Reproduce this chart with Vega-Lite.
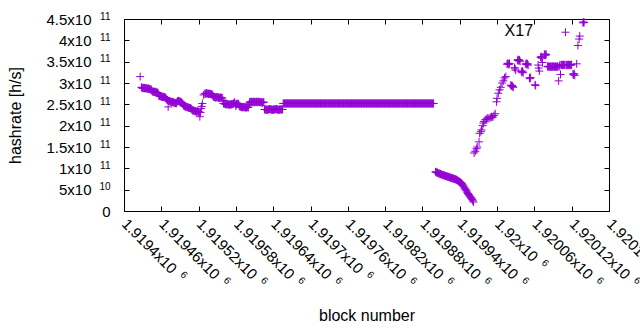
{
  "$schema": "https://vega.github.io/schema/vega-lite/v6.json",
  "width": 485,
  "height": 192,
  "autosize": "none",
  "padding": {"left": 124, "top": 19, "right": 31, "bottom": 119},
  "config": {
    "font": "Liberation Sans",
    "view": {"stroke": "black", "strokeWidth": 1},
    "axis": {
      "domain": false,
      "grid": false,
      "tickColor": "black",
      "tickSize": -5,
      "labelFont": "Liberation Sans",
      "labelFontSize": 15,
      "labelColor": "black",
      "titleFont": "Liberation Sans",
      "titleFontSize": 16,
      "titleFontWeight": "normal",
      "titleColor": "black",
      "labelOverlap": false,
      "labelFlush": false,
      "labelBound": false
    }
  },
  "resolve": {"axis": {"x": "independent", "y": "independent"}},
  "layer": [
    {
      "data": {"values": [
        {"block":1919426,"hashrate":3.15e11},
        {"block":1919428,"hashrate":2.90e11},{"block":1919429,"hashrate":2.89e11},{"block":1919430,"hashrate":2.88e11},{"block":1919431,"hashrate":2.88e11},{"block":1919432,"hashrate":2.89e11},{"block":1919433,"hashrate":2.88e11},{"block":1919434,"hashrate":2.87e11},{"block":1919435,"hashrate":2.88e11},{"block":1919436,"hashrate":2.88e11},{"block":1919437,"hashrate":2.87e11},{"block":1919438,"hashrate":2.86e11},{"block":1919439,"hashrate":2.87e11},{"block":1919440,"hashrate":2.87e11},{"block":1919441,"hashrate":2.86e11},{"block":1919442,"hashrate":2.85e11},{"block":1919443,"hashrate":2.85e11},{"block":1919444,"hashrate":2.84e11},
        {"block":1919445,"hashrate":2.81e11},{"block":1919446,"hashrate":2.80e11},{"block":1919447,"hashrate":2.80e11},{"block":1919448,"hashrate":2.79e11},{"block":1919449,"hashrate":2.79e11},{"block":1919450,"hashrate":2.80e11},{"block":1919451,"hashrate":2.79e11},{"block":1919452,"hashrate":2.78e11},{"block":1919453,"hashrate":2.78e11},{"block":1919454,"hashrate":2.77e11},{"block":1919455,"hashrate":2.76e11},
        {"block":1919456,"hashrate":2.70e11},{"block":1919457,"hashrate":2.70e11},{"block":1919458,"hashrate":2.69e11},{"block":1919459,"hashrate":2.69e11},{"block":1919460,"hashrate":2.68e11},{"block":1919461,"hashrate":2.68e11},{"block":1919462,"hashrate":2.67e11},{"block":1919463,"hashrate":2.67e11},{"block":1919464,"hashrate":2.68e11},{"block":1919465,"hashrate":2.67e11},{"block":1919466,"hashrate":2.66e11},{"block":1919467,"hashrate":2.65e11},{"block":1919468,"hashrate":2.63e11},
        {"block":1919469,"hashrate":2.61e11},{"block":1919470,"hashrate":2.60e11},{"block":1919471,"hashrate":2.44e11},{"block":1919472,"hashrate":2.58e11},{"block":1919473,"hashrate":2.58e11},{"block":1919474,"hashrate":2.57e11},{"block":1919475,"hashrate":2.56e11},{"block":1919476,"hashrate":2.55e11},{"block":1919477,"hashrate":2.56e11},{"block":1919478,"hashrate":2.56e11},{"block":1919479,"hashrate":2.55e11},{"block":1919480,"hashrate":2.54e11},{"block":1919481,"hashrate":2.54e11},{"block":1919482,"hashrate":2.53e11},{"block":1919483,"hashrate":2.53e11},{"block":1919484,"hashrate":2.52e11},{"block":1919485,"hashrate":2.55e11},
        {"block":1919486,"hashrate":2.57e11},{"block":1919487,"hashrate":2.58e11},{"block":1919488,"hashrate":2.58e11},{"block":1919489,"hashrate":2.57e11},{"block":1919490,"hashrate":2.56e11},{"block":1919491,"hashrate":2.56e11},{"block":1919492,"hashrate":2.55e11},{"block":1919493,"hashrate":2.54e11},{"block":1919494,"hashrate":2.52e11},{"block":1919495,"hashrate":2.50e11},
        {"block":1919496,"hashrate":2.47e11},{"block":1919497,"hashrate":2.46e11},{"block":1919498,"hashrate":2.45e11},{"block":1919499,"hashrate":2.45e11},{"block":1919500,"hashrate":2.44e11},{"block":1919501,"hashrate":2.44e11},{"block":1919502,"hashrate":2.43e11},{"block":1919503,"hashrate":2.43e11},{"block":1919504,"hashrate":2.42e11},{"block":1919505,"hashrate":2.42e11},{"block":1919506,"hashrate":2.41e11},{"block":1919507,"hashrate":2.41e11},{"block":1919508,"hashrate":2.40e11},{"block":1919509,"hashrate":2.38e11},
        {"block":1919510,"hashrate":2.36e11},{"block":1919511,"hashrate":2.36e11},{"block":1919512,"hashrate":2.35e11},{"block":1919513,"hashrate":2.35e11},{"block":1919514,"hashrate":2.34e11},{"block":1919515,"hashrate":2.34e11},{"block":1919516,"hashrate":2.33e11},{"block":1919517,"hashrate":2.33e11},{"block":1919518,"hashrate":2.34e11},{"block":1919519,"hashrate":2.33e11},{"block":1919520,"hashrate":2.32e11},{"block":1919521,"hashrate":2.32e11},{"block":1919522,"hashrate":2.21e11},{"block":1919523,"hashrate":2.31e11},{"block":1919524,"hashrate":2.40e11},{"block":1919525,"hashrate":2.45e11},{"block":1919526,"hashrate":2.52e11},{"block":1919528,"hashrate":2.72e11},
        {"block":1919530,"hashrate":2.75e11},{"block":1919531,"hashrate":2.75e11},{"block":1919532,"hashrate":2.76e11},{"block":1919533,"hashrate":2.76e11},{"block":1919534,"hashrate":2.75e11},{"block":1919535,"hashrate":2.75e11},{"block":1919536,"hashrate":2.74e11},{"block":1919537,"hashrate":2.75e11},{"block":1919538,"hashrate":2.75e11},{"block":1919539,"hashrate":2.74e11},{"block":1919540,"hashrate":2.74e11},{"block":1919541,"hashrate":2.73e11},{"block":1919542,"hashrate":2.73e11},{"block":1919543,"hashrate":2.70e11},
        {"block":1919544,"hashrate":2.68e11},{"block":1919545,"hashrate":2.67e11},{"block":1919546,"hashrate":2.67e11},{"block":1919547,"hashrate":2.66e11},{"block":1919548,"hashrate":2.66e11},{"block":1919549,"hashrate":2.67e11},{"block":1919550,"hashrate":2.67e11},{"block":1919551,"hashrate":2.66e11},{"block":1919552,"hashrate":2.66e11},{"block":1919553,"hashrate":2.65e11},{"block":1919554,"hashrate":2.65e11},{"block":1919555,"hashrate":2.66e11},{"block":1919556,"hashrate":2.66e11},{"block":1919557,"hashrate":2.65e11},{"block":1919558,"hashrate":2.65e11},{"block":1919559,"hashrate":2.60e11},
        {"block":1919560,"hashrate":2.52e11},{"block":1919561,"hashrate":2.52e11},{"block":1919562,"hashrate":2.51e11},{"block":1919563,"hashrate":2.51e11},{"block":1919564,"hashrate":2.50e11},{"block":1919565,"hashrate":2.50e11},{"block":1919566,"hashrate":2.51e11},{"block":1919567,"hashrate":2.50e11},{"block":1919568,"hashrate":2.50e11},{"block":1919569,"hashrate":2.49e11},{"block":1919570,"hashrate":2.49e11},{"block":1919571,"hashrate":2.50e11},{"block":1919572,"hashrate":2.50e11},{"block":1919573,"hashrate":2.50e11},{"block":1919574,"hashrate":2.50e11},{"block":1919575,"hashrate":2.51e11},
        {"block":1919576,"hashrate":2.52e11},{"block":1919577,"hashrate":2.53e11},{"block":1919578,"hashrate":2.55e11},{"block":1919579,"hashrate":2.50e11},{"block":1919580,"hashrate":2.46e11},{"block":1919581,"hashrate":2.50e11},{"block":1919582,"hashrate":2.52e11},{"block":1919583,"hashrate":2.51e11},{"block":1919584,"hashrate":2.51e11},{"block":1919585,"hashrate":2.48e11},
        {"block":1919586,"hashrate":2.45e11},{"block":1919587,"hashrate":2.45e11},{"block":1919588,"hashrate":2.44e11},{"block":1919589,"hashrate":2.44e11},{"block":1919590,"hashrate":2.43e11},{"block":1919591,"hashrate":2.43e11},{"block":1919592,"hashrate":2.44e11},{"block":1919593,"hashrate":2.44e11},{"block":1919594,"hashrate":2.43e11},{"block":1919595,"hashrate":2.43e11},{"block":1919596,"hashrate":2.42e11},{"block":1919597,"hashrate":2.43e11},{"block":1919598,"hashrate":2.44e11},{"block":1919599,"hashrate":2.43e11},{"block":1919600,"hashrate":2.43e11},{"block":1919601,"hashrate":2.50e11},
        {"block":1919602,"hashrate":2.55e11},{"block":1919603,"hashrate":2.55e11},{"block":1919604,"hashrate":2.56e11},{"block":1919605,"hashrate":2.56e11},{"block":1919606,"hashrate":2.55e11},{"block":1919607,"hashrate":2.55e11},{"block":1919608,"hashrate":2.56e11},{"block":1919609,"hashrate":2.56e11},{"block":1919610,"hashrate":2.55e11},{"block":1919611,"hashrate":2.55e11},{"block":1919612,"hashrate":2.56e11},{"block":1919613,"hashrate":2.56e11},{"block":1919614,"hashrate":2.55e11},{"block":1919615,"hashrate":2.55e11},{"block":1919616,"hashrate":2.56e11},{"block":1919617,"hashrate":2.56e11},{"block":1919618,"hashrate":2.55e11},{"block":1919619,"hashrate":2.55e11},{"block":1919620,"hashrate":2.55e11},{"block":1919621,"hashrate":2.55e11},{"block":1919622,"hashrate":2.54e11},{"block":1919623,"hashrate":2.54e11},{"block":1919624,"hashrate":2.55e11},{"block":1919625,"hashrate":2.55e11},
        {"block":1919626,"hashrate":2.38e11},{"block":1919627,"hashrate":2.38e11},{"block":1919628,"hashrate":2.38e11},{"block":1919629,"hashrate":2.38e11},{"block":1919630,"hashrate":2.37e11},{"block":1919631,"hashrate":2.37e11},{"block":1919632,"hashrate":2.38e11},{"block":1919633,"hashrate":2.38e11},{"block":1919634,"hashrate":2.39e11},{"block":1919635,"hashrate":2.39e11},{"block":1919636,"hashrate":2.38e11},{"block":1919637,"hashrate":2.38e11},{"block":1919638,"hashrate":2.37e11},{"block":1919639,"hashrate":2.37e11},{"block":1919640,"hashrate":2.38e11},{"block":1919641,"hashrate":2.38e11},{"block":1919642,"hashrate":2.38e11},{"block":1919643,"hashrate":2.38e11},{"block":1919644,"hashrate":2.39e11},{"block":1919645,"hashrate":2.39e11},{"block":1919646,"hashrate":2.38e11},{"block":1919647,"hashrate":2.38e11},{"block":1919648,"hashrate":2.37e11},{"block":1919649,"hashrate":2.37e11},{"block":1919650,"hashrate":2.38e11},{"block":1919651,"hashrate":2.38e11},{"block":1919652,"hashrate":2.38e11},{"block":1919653,"hashrate":2.38e11},{"block":1919654,"hashrate":2.38e11},{"block":1919655,"hashrate":2.38e11},
        {"block":1919656,"hashrate":2.52e11},{"block":1919657,"hashrate":2.52e11},{"block":1919658,"hashrate":2.52e11},{"block":1919659,"hashrate":2.52e11},{"block":1919660,"hashrate":2.52e11},{"block":1919661,"hashrate":2.52e11},{"block":1919662,"hashrate":2.52e11},{"block":1919663,"hashrate":2.52e11},{"block":1919664,"hashrate":2.52e11},{"block":1919665,"hashrate":2.52e11},{"block":1919666,"hashrate":2.52e11},{"block":1919667,"hashrate":2.52e11},{"block":1919668,"hashrate":2.52e11},{"block":1919669,"hashrate":2.52e11},{"block":1919670,"hashrate":2.52e11},{"block":1919671,"hashrate":2.52e11},{"block":1919672,"hashrate":2.52e11},{"block":1919673,"hashrate":2.52e11},{"block":1919674,"hashrate":2.52e11},{"block":1919675,"hashrate":2.52e11},
        {"block":1919676,"hashrate":2.52e11},{"block":1919677,"hashrate":2.52e11},{"block":1919678,"hashrate":2.52e11},{"block":1919679,"hashrate":2.52e11},{"block":1919680,"hashrate":2.52e11},{"block":1919681,"hashrate":2.52e11},{"block":1919682,"hashrate":2.52e11},{"block":1919683,"hashrate":2.52e11},{"block":1919684,"hashrate":2.52e11},{"block":1919685,"hashrate":2.52e11},{"block":1919686,"hashrate":2.52e11},{"block":1919687,"hashrate":2.52e11},{"block":1919688,"hashrate":2.52e11},{"block":1919689,"hashrate":2.52e11},{"block":1919690,"hashrate":2.52e11},{"block":1919691,"hashrate":2.52e11},{"block":1919692,"hashrate":2.52e11},{"block":1919693,"hashrate":2.52e11},{"block":1919694,"hashrate":2.52e11},{"block":1919695,"hashrate":2.52e11},
        {"block":1919696,"hashrate":2.52e11},{"block":1919697,"hashrate":2.52e11},{"block":1919698,"hashrate":2.52e11},{"block":1919699,"hashrate":2.52e11},{"block":1919700,"hashrate":2.52e11},{"block":1919701,"hashrate":2.52e11},{"block":1919702,"hashrate":2.52e11},{"block":1919703,"hashrate":2.52e11},{"block":1919704,"hashrate":2.52e11},{"block":1919705,"hashrate":2.52e11},{"block":1919706,"hashrate":2.52e11},{"block":1919707,"hashrate":2.52e11},{"block":1919708,"hashrate":2.52e11},{"block":1919709,"hashrate":2.52e11},{"block":1919710,"hashrate":2.52e11},{"block":1919711,"hashrate":2.52e11},{"block":1919712,"hashrate":2.52e11},{"block":1919713,"hashrate":2.52e11},{"block":1919714,"hashrate":2.52e11},{"block":1919715,"hashrate":2.52e11},
        {"block":1919716,"hashrate":2.52e11},{"block":1919717,"hashrate":2.52e11},{"block":1919718,"hashrate":2.52e11},{"block":1919719,"hashrate":2.52e11},{"block":1919720,"hashrate":2.52e11},{"block":1919721,"hashrate":2.52e11},{"block":1919722,"hashrate":2.52e11},{"block":1919723,"hashrate":2.52e11},{"block":1919724,"hashrate":2.52e11},{"block":1919725,"hashrate":2.52e11},{"block":1919726,"hashrate":2.52e11},{"block":1919727,"hashrate":2.52e11},{"block":1919728,"hashrate":2.52e11},{"block":1919729,"hashrate":2.52e11},{"block":1919730,"hashrate":2.52e11},{"block":1919731,"hashrate":2.52e11},{"block":1919732,"hashrate":2.52e11},{"block":1919733,"hashrate":2.52e11},{"block":1919734,"hashrate":2.52e11},{"block":1919735,"hashrate":2.52e11},
        {"block":1919736,"hashrate":2.52e11},{"block":1919737,"hashrate":2.52e11},{"block":1919738,"hashrate":2.52e11},{"block":1919739,"hashrate":2.52e11},{"block":1919740,"hashrate":2.52e11},{"block":1919741,"hashrate":2.52e11},{"block":1919742,"hashrate":2.52e11},{"block":1919743,"hashrate":2.52e11},{"block":1919744,"hashrate":2.52e11},{"block":1919745,"hashrate":2.52e11},{"block":1919746,"hashrate":2.52e11},{"block":1919747,"hashrate":2.52e11},{"block":1919748,"hashrate":2.52e11},{"block":1919749,"hashrate":2.52e11},{"block":1919750,"hashrate":2.52e11},{"block":1919751,"hashrate":2.52e11},{"block":1919752,"hashrate":2.52e11},{"block":1919753,"hashrate":2.52e11},{"block":1919754,"hashrate":2.52e11},{"block":1919755,"hashrate":2.52e11},
        {"block":1919756,"hashrate":2.52e11},{"block":1919757,"hashrate":2.52e11},{"block":1919758,"hashrate":2.52e11},{"block":1919759,"hashrate":2.52e11},{"block":1919760,"hashrate":2.52e11},{"block":1919761,"hashrate":2.52e11},{"block":1919762,"hashrate":2.52e11},{"block":1919763,"hashrate":2.52e11},{"block":1919764,"hashrate":2.52e11},{"block":1919765,"hashrate":2.52e11},{"block":1919766,"hashrate":2.52e11},{"block":1919767,"hashrate":2.52e11},{"block":1919768,"hashrate":2.52e11},{"block":1919769,"hashrate":2.52e11},{"block":1919770,"hashrate":2.52e11},{"block":1919771,"hashrate":2.52e11},{"block":1919772,"hashrate":2.52e11},{"block":1919773,"hashrate":2.52e11},{"block":1919774,"hashrate":2.52e11},{"block":1919775,"hashrate":2.52e11},
        {"block":1919776,"hashrate":2.52e11},{"block":1919777,"hashrate":2.52e11},{"block":1919778,"hashrate":2.52e11},{"block":1919779,"hashrate":2.52e11},{"block":1919780,"hashrate":2.52e11},{"block":1919781,"hashrate":2.52e11},{"block":1919782,"hashrate":2.52e11},{"block":1919783,"hashrate":2.52e11},{"block":1919784,"hashrate":2.52e11},{"block":1919785,"hashrate":2.52e11},{"block":1919786,"hashrate":2.52e11},{"block":1919787,"hashrate":2.52e11},{"block":1919788,"hashrate":2.52e11},{"block":1919789,"hashrate":2.52e11},{"block":1919790,"hashrate":2.52e11},{"block":1919791,"hashrate":2.52e11},{"block":1919792,"hashrate":2.52e11},{"block":1919793,"hashrate":2.52e11},{"block":1919794,"hashrate":2.52e11},{"block":1919795,"hashrate":2.52e11},
        {"block":1919796,"hashrate":2.52e11},{"block":1919797,"hashrate":2.52e11},{"block":1919798,"hashrate":2.52e11},{"block":1919799,"hashrate":2.52e11},{"block":1919800,"hashrate":2.52e11},{"block":1919801,"hashrate":2.52e11},{"block":1919802,"hashrate":2.52e11},{"block":1919803,"hashrate":2.52e11},{"block":1919804,"hashrate":2.52e11},{"block":1919805,"hashrate":2.52e11},{"block":1919806,"hashrate":2.52e11},{"block":1919807,"hashrate":2.52e11},{"block":1919808,"hashrate":2.52e11},{"block":1919809,"hashrate":2.52e11},{"block":1919810,"hashrate":2.52e11},{"block":1919811,"hashrate":2.52e11},{"block":1919812,"hashrate":2.52e11},{"block":1919813,"hashrate":2.52e11},{"block":1919814,"hashrate":2.52e11},{"block":1919815,"hashrate":2.52e11},
        {"block":1919816,"hashrate":2.52e11},{"block":1919817,"hashrate":2.52e11},{"block":1919818,"hashrate":2.52e11},{"block":1919819,"hashrate":2.52e11},{"block":1919820,"hashrate":2.52e11},{"block":1919821,"hashrate":2.52e11},{"block":1919822,"hashrate":2.52e11},{"block":1919823,"hashrate":2.52e11},{"block":1919824,"hashrate":2.52e11},{"block":1919825,"hashrate":2.52e11},{"block":1919826,"hashrate":2.52e11},{"block":1919827,"hashrate":2.52e11},{"block":1919828,"hashrate":2.52e11},{"block":1919829,"hashrate":2.52e11},{"block":1919830,"hashrate":2.52e11},{"block":1919831,"hashrate":2.52e11},{"block":1919832,"hashrate":2.52e11},{"block":1919833,"hashrate":2.52e11},{"block":1919834,"hashrate":2.52e11},{"block":1919835,"hashrate":2.52e11},
        {"block":1919836,"hashrate":2.52e11},{"block":1919837,"hashrate":2.52e11},{"block":1919838,"hashrate":2.52e11},{"block":1919839,"hashrate":2.52e11},{"block":1919840,"hashrate":2.52e11},{"block":1919841,"hashrate":2.52e11},{"block":1919842,"hashrate":2.52e11},{"block":1919843,"hashrate":2.52e11},{"block":1919844,"hashrate":2.52e11},{"block":1919845,"hashrate":2.52e11},{"block":1919846,"hashrate":2.52e11},{"block":1919847,"hashrate":2.52e11},{"block":1919848,"hashrate":2.52e11},{"block":1919849,"hashrate":2.52e11},{"block":1919850,"hashrate":2.52e11},{"block":1919851,"hashrate":2.52e11},{"block":1919852,"hashrate":2.52e11},{"block":1919853,"hashrate":2.52e11},{"block":1919854,"hashrate":2.52e11},{"block":1919855,"hashrate":2.52e11},
        {"block":1919856,"hashrate":2.52e11},{"block":1919857,"hashrate":2.52e11},{"block":1919858,"hashrate":2.52e11},{"block":1919859,"hashrate":2.52e11},{"block":1919860,"hashrate":2.52e11},{"block":1919861,"hashrate":2.52e11},{"block":1919862,"hashrate":2.52e11},{"block":1919863,"hashrate":2.52e11},{"block":1919864,"hashrate":2.52e11},{"block":1919865,"hashrate":2.52e11},{"block":1919866,"hashrate":2.52e11},{"block":1919867,"hashrate":2.52e11},{"block":1919868,"hashrate":2.52e11},{"block":1919869,"hashrate":2.52e11},{"block":1919870,"hashrate":2.52e11},{"block":1919871,"hashrate":2.52e11},{"block":1919872,"hashrate":2.52e11},{"block":1919873,"hashrate":2.52e11},{"block":1919874,"hashrate":2.52e11},{"block":1919875,"hashrate":2.52e11},
        {"block":1919876,"hashrate":2.52e11},{"block":1919877,"hashrate":2.52e11},{"block":1919878,"hashrate":2.52e11},{"block":1919879,"hashrate":2.52e11},{"block":1919880,"hashrate":2.52e11},{"block":1919881,"hashrate":2.52e11},{"block":1919882,"hashrate":2.52e11},{"block":1919883,"hashrate":2.52e11},{"block":1919884,"hashrate":2.52e11},{"block":1919885,"hashrate":2.52e11},{"block":1919886,"hashrate":2.52e11},{"block":1919887,"hashrate":2.52e11},{"block":1919888,"hashrate":2.52e11},{"block":1919889,"hashrate":2.52e11},{"block":1919890,"hashrate":2.52e11},{"block":1919891,"hashrate":2.52e11},{"block":1919892,"hashrate":2.52e11},{"block":1919893,"hashrate":2.52e11},{"block":1919894,"hashrate":2.52e11},{"block":1919895,"hashrate":2.52e11},{"block":1919896,"hashrate":2.52e11},{"block":1919897,"hashrate":2.52e11},{"block":1919898,"hashrate":2.52e11},
        {"block":1919901,"hashrate":0.92e11},{"block":1919902,"hashrate":0.91e11},{"block":1919903,"hashrate":0.90e11},{"block":1919904,"hashrate":0.90e11},{"block":1919905,"hashrate":0.89e11},{"block":1919906,"hashrate":0.88e11},{"block":1919907,"hashrate":0.88e11},{"block":1919908,"hashrate":0.87e11},{"block":1919909,"hashrate":0.87e11},{"block":1919910,"hashrate":0.86e11},
        {"block":1919911,"hashrate":0.85e11},{"block":1919912,"hashrate":0.85e11},{"block":1919913,"hashrate":0.84e11},{"block":1919914,"hashrate":0.84e11},{"block":1919915,"hashrate":0.83e11},{"block":1919916,"hashrate":0.83e11},{"block":1919917,"hashrate":0.82e11},{"block":1919918,"hashrate":0.82e11},{"block":1919919,"hashrate":0.81e11},{"block":1919920,"hashrate":0.81e11},
        {"block":1919921,"hashrate":0.80e11},{"block":1919922,"hashrate":0.80e11},{"block":1919923,"hashrate":0.79e11},{"block":1919924,"hashrate":0.79e11},{"block":1919925,"hashrate":0.78e11},{"block":1919926,"hashrate":0.78e11},{"block":1919927,"hashrate":0.77e11},{"block":1919928,"hashrate":0.77e11},{"block":1919929,"hashrate":0.76e11},{"block":1919930,"hashrate":0.76e11},
        {"block":1919931,"hashrate":0.75e11},{"block":1919932,"hashrate":0.75e11},{"block":1919933,"hashrate":0.74e11},{"block":1919934,"hashrate":0.74e11},{"block":1919935,"hashrate":0.73e11},{"block":1919936,"hashrate":0.72e11},{"block":1919937,"hashrate":0.71e11},{"block":1919938,"hashrate":0.70e11},{"block":1919939,"hashrate":0.69e11},{"block":1919940,"hashrate":0.68e11},
        {"block":1919941,"hashrate":0.67e11},{"block":1919942,"hashrate":0.66e11},{"block":1919943,"hashrate":0.65e11},{"block":1919944,"hashrate":0.63e11},{"block":1919945,"hashrate":0.61e11},{"block":1919946,"hashrate":0.58e11},{"block":1919947,"hashrate":0.56e11},{"block":1919948,"hashrate":0.53e11},{"block":1919949,"hashrate":0.51e11},{"block":1919950,"hashrate":0.49e11},
        {"block":1919951,"hashrate":0.47e11},{"block":1919952,"hashrate":0.44e11},{"block":1919953,"hashrate":0.41e11},{"block":1919954,"hashrate":0.39e11},{"block":1919955,"hashrate":0.37e11},{"block":1919956,"hashrate":0.35e11},{"block":1919957,"hashrate":0.33e11},{"block":1919958,"hashrate":0.31e11},{"block":1919959,"hashrate":0.30e11},{"block":1919960,"hashrate":0.27e11},{"block":1919961,"hashrate":0.24e11},{"block":1919962,"hashrate":0.21e11},
        {"block":1919963,"hashrate":1.36e11},{"block":1919965,"hashrate":1.40e11},{"block":1919967,"hashrate":1.46e11},{"block":1919968,"hashrate":1.50e11},{"block":1919971,"hashrate":1.62e11},{"block":1919972,"hashrate":1.82e11},{"block":1919974,"hashrate":1.86e11},{"block":1919975,"hashrate":1.90e11},{"block":1919977,"hashrate":2.00e11},{"block":1919978,"hashrate":2.06e11},{"block":1919979,"hashrate":2.10e11},
        {"block":1919981,"hashrate":2.14e11},{"block":1919983,"hashrate":2.15e11},{"block":1919985,"hashrate":2.18e11},{"block":1919987,"hashrate":2.17e11},{"block":1919989,"hashrate":2.19e11},{"block":1919991,"hashrate":2.21e11},{"block":1919993,"hashrate":2.20e11},{"block":1919995,"hashrate":2.24e11},{"block":1919997,"hashrate":2.28e11},
        {"block":1919999,"hashrate":2.56e11},{"block":1920000,"hashrate":2.64e11},{"block":1920002,"hashrate":2.76e11},{"block":1920004,"hashrate":2.84e11},{"block":1920006,"hashrate":2.90e11},{"block":1920008,"hashrate":3.00e11},{"block":1920010,"hashrate":3.05e11},{"block":1920012,"hashrate":3.12e11},{"block":1920014,"hashrate":3.15e11},
        {"block":1920016,"hashrate":3.44e11},{"block":1920017,"hashrate":3.46e11},{"block":1920018,"hashrate":3.45e11},{"block":1920019,"hashrate":3.43e11},{"block":1920020,"hashrate":3.46e11},
        {"block":1920022,"hashrate":2.95e11},{"block":1920023,"hashrate":2.93e11},{"block":1920024,"hashrate":2.94e11},{"block":1920025,"hashrate":2.92e11},{"block":1920026,"hashrate":2.90e11},
        {"block":1920028,"hashrate":3.36e11},{"block":1920029,"hashrate":3.33e11},{"block":1920030,"hashrate":3.30e11},
        {"block":1920033,"hashrate":3.53e11},{"block":1920034,"hashrate":3.55e11},{"block":1920035,"hashrate":3.52e11},{"block":1920036,"hashrate":3.54e11},{"block":1920037,"hashrate":3.51e11},
        {"block":1920039,"hashrate":3.27e11},{"block":1920040,"hashrate":3.25e11},{"block":1920041,"hashrate":3.28e11},{"block":1920042,"hashrate":3.24e11},
        {"block":1920046,"hashrate":3.44e11},{"block":1920047,"hashrate":3.46e11},{"block":1920048,"hashrate":3.43e11},{"block":1920049,"hashrate":3.45e11},{"block":1920050,"hashrate":3.42e11},
        {"block":1920052,"hashrate":3.12e11},{"block":1920053,"hashrate":3.10e11},{"block":1920054,"hashrate":3.13e11},
        {"block":1920061,"hashrate":2.96e11},{"block":1920062,"hashrate":2.94e11},
        {"block":1920066,"hashrate":3.42e11},{"block":1920067,"hashrate":3.35e11},{"block":1920068,"hashrate":3.28e11},
        {"block":1920070,"hashrate":3.60e11},{"block":1920071,"hashrate":3.62e11},{"block":1920072,"hashrate":3.58e11},{"block":1920073,"hashrate":3.48e11},
        {"block":1920076,"hashrate":3.66e11},{"block":1920077,"hashrate":3.68e11},{"block":1920078,"hashrate":3.65e11},{"block":1920079,"hashrate":3.67e11},
        {"block":1920081,"hashrate":3.39e11},{"block":1920082,"hashrate":3.38e11},{"block":1920083,"hashrate":3.39e11},{"block":1920084,"hashrate":3.38e11},{"block":1920085,"hashrate":3.38e11},{"block":1920086,"hashrate":3.39e11},{"block":1920087,"hashrate":3.38e11},{"block":1920088,"hashrate":3.38e11},{"block":1920089,"hashrate":3.39e11},{"block":1920090,"hashrate":3.38e11},{"block":1920091,"hashrate":3.39e11},{"block":1920092,"hashrate":3.38e11},{"block":1920093,"hashrate":3.38e11},{"block":1920094,"hashrate":3.39e11},{"block":1920095,"hashrate":3.38e11},{"block":1920096,"hashrate":3.38e11},{"block":1920097,"hashrate":3.39e11},{"block":1920098,"hashrate":3.38e11},{"block":1920099,"hashrate":3.05e11},{"block":1920100,"hashrate":3.39e11},
        {"block":1920101,"hashrate":3.42e11},{"block":1920102,"hashrate":3.20e11},{"block":1920103,"hashrate":3.43e11},{"block":1920104,"hashrate":3.42e11},{"block":1920105,"hashrate":3.42e11},{"block":1920106,"hashrate":3.43e11},{"block":1920107,"hashrate":3.42e11},{"block":1920108,"hashrate":3.43e11},{"block":1920109,"hashrate":3.42e11},{"block":1920110,"hashrate":4.19e11},{"block":1920111,"hashrate":3.42e11},{"block":1920112,"hashrate":3.43e11},{"block":1920113,"hashrate":3.42e11},{"block":1920114,"hashrate":3.42e11},{"block":1920115,"hashrate":3.43e11},{"block":1920116,"hashrate":3.42e11},{"block":1920117,"hashrate":3.42e11},{"block":1920118,"hashrate":3.43e11},{"block":1920119,"hashrate":3.42e11},{"block":1920120,"hashrate":3.43e11},
        {"block":1920122,"hashrate":3.21e11},{"block":1920123,"hashrate":3.19e11},{"block":1920124,"hashrate":3.22e11},{"block":1920125,"hashrate":3.18e11},{"block":1920128,"hashrate":3.45e11},
        {"block":1920130,"hashrate":3.88e11},{"block":1920132,"hashrate":4.03e11},{"block":1920133,"hashrate":4.10e11},
        {"block":1920138,"hashrate":4.41e11},{"block":1920139,"hashrate":4.43e11},{"block":1920140,"hashrate":4.42e11}
      ]},
      "mark": {"type": "point", "shape": "M-1,0H1M0,-1V1", "filled": false, "stroke": "#9400d3", "strokeWidth": 1, "size": 64, "opacity": 1},
      "encoding": {
        "x": {
          "field": "block", "type": "quantitative",
          "scale": {"domain": [1919400, 1920180], "nice": false, "zero": false},
          "axis": {
            "title": "block number",
            "values": [1919400,1919460,1919520,1919580,1919640,1919700,1919760,1919820,1919880,1919940,1920000,1920060,1920120,1920180],
            "labelExpr": "format(datum.value / 1e6, '.6~g') + 'x10'",
            "labelAngle": 45,
            "labelAlign": "left",
            "labelBaseline": "top",
            "labelPadding": 10,
            "labelOffset": 5,
            "titlePadding": 25
          }
        },
        "y": {
          "field": "hashrate", "type": "quantitative",
          "scale": {"domain": [0, 4.5e11], "nice": false, "zero": true},
          "axis": {
            "title": "hashrate [h/s]",
            "values": [0,5e10,1e11,1.5e11,2e11,2.5e11,3e11,3.5e11,4e11,4.5e11],
            "labelExpr": "datum.value == 0 ? '0' : (datum.value < 1e11 ? format(datum.value / 1e10, '.2~g') + 'x10' : format(datum.value / 1e11, '.2~g') + 'x10')",
            "labelPadding": {"expr": "datum.value == 0 ? 19 : 38"},
            "titlePadding": 22
          }
        }
      }
    },
    {
      "data": {"values": [{"block": 1920035, "hashrate": 4.22e11, "label": "X17"}]},
      "mark": {"type": "text", "fontSize": 16, "font": "Liberation Sans", "color": "black"},
      "encoding": {
        "x": {"field": "block", "type": "quantitative", "axis": {
          "orient": "bottom", "title": null, "tickOpacity": 0,
          "values": [1919400,1919460,1919520,1919580,1919640,1919700,1919760,1919820,1919880,1919940,1920000,1920060,1920120,1920180],
          "labelExpr": "'6'", "labelFontSize": 10, "labelAngle": 45, "labelAlign": "left", "labelBaseline": "top",
          "labelPadding": {"expr": "10 + 0.7071 * (8.34 * length(format(datum.value / 1e6, '.6~g')) + 25)"},
          "labelOffset": {"expr": "5 + 0.7071 * (8.34 * length(format(datum.value / 1e6, '.6~g')) + 29)"}
        }},
        "y": {"field": "hashrate", "type": "quantitative", "axis": {
          "orient": "left", "title": null, "tickOpacity": 0,
          "values": [0,5e10,1e11,1.5e11,2e11,2.5e11,3e11,3.5e11,4e11,4.5e11],
          "labelExpr": "datum.value == 0 ? '' : (datum.value < 1e11 ? '10' : '11')",
          "labelFontSize": 10, "labelPadding": 19, "labelOffset": -3
        }},
        "text": {"field": "label"}
      }
    },
    {
      "data": {"values": [{"block": 1920035, "hashrate": 4.22e11}]},
      "mark": {"type": "point", "opacity": 0},
      "encoding": {
        "x": {"field": "block", "type": "quantitative", "axis": {"orient": "top", "labels": false, "title": null, "values": [1919400,1919460,1919520,1919580,1919640,1919700,1919760,1919820,1919880,1919940,1920000,1920060,1920120,1920180]}},
        "y": {"field": "hashrate", "type": "quantitative", "axis": {"orient": "right", "labels": false, "title": null, "values": [0,5e10,1e11,1.5e11,2e11,2.5e11,3e11,3.5e11,4e11,4.5e11]}}
      }
    }
  ]
}
